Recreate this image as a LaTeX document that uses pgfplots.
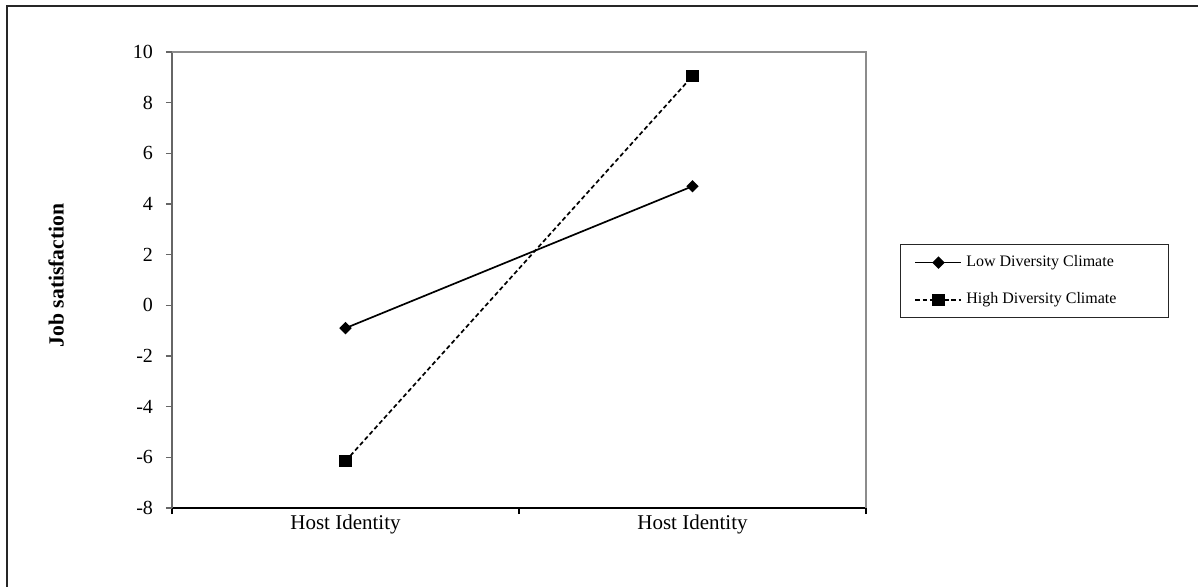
\documentclass[border=0pt]{standalone}
\usepackage{fontspec}
\setmainfont{Liberation Serif}
\usepackage{pgfplots}
\pgfplotsset{compat=1.18}
\begin{document}
\begin{tikzpicture}
\useasboundingbox (-86pt,-39pt) rectangle (513pt,254pt);
\draw[line width=1pt, black!85] (-82.5pt,-45pt) -- (-82.5pt,251pt) -- (520pt,251pt);
\begin{axis}[
  at={(0pt,0pt)}, anchor=south west,
  width=347pt, height=228pt, scale only axis,
  xmin=0, xmax=2, ymin=-8, ymax=10,
  ytick={-8,-6,...,10},
  xtick={0,1,2}, xticklabels={},
  extra x ticks={0.5,1.5},
  extra x tick labels={Host Identity,Host Identity},
  extra x tick style={major tick length=0pt, tick style={draw=none}},
  axis x line=bottom, axis y line=left, axis line style={-},
  x axis line style={black, line width=0.75pt},
  y axis line style={black!60, line width=1pt},
  ytick style={black!60, line width=0.75pt},
  xtick style={black, line width=0.75pt},
  tick align=outside, major tick length=3pt,
  /pgf/number format/assume math mode=true,
  tick label style={font=\fontsize{10}{12}\selectfont},
  yticklabel style={xshift=-3pt},
  xticklabel style={font=\fontsize{10.5}{12}\selectfont},
  ylabel={\textbf{Job satisfaction}},
  ylabel style={at={(axis description cs:-0.167,0.51)}, anchor=center, font=\fontsize{10.8}{13}\selectfont},
  clip=false,
  legend cell align=left,
  legend style={at={(1.049,0.579)}, anchor=north west, draw=black!85, line width=0.6pt,
    font=\fontsize{8}{9.6}\selectfont, row sep=7.5pt, inner ysep=3.5pt, inner xsep=7pt},
  legend image code/.code={\draw[mark repeat=2,mark phase=2,#1] plot coordinates {(0pt,0pt) (11.5pt,0pt) (23pt,0pt)};},
]
\addplot[black, line width=0.85pt, mark=diamond*, mark size=2.5pt, mark options={solid, xscale=1.33}] coordinates {(0.5,-0.9) (1.5,4.7)};
\addlegendentry{\makebox[92pt][l]{Low Diversity Climate}}
\addplot[black, line width=0.85pt, dash pattern=on 2.2pt off 1.4pt, mark=square*, mark size=2.6pt, mark options={solid}] coordinates {(0.5,-6.15) (1.5,9.05)};
\addlegendentry{\makebox[92pt][l]{High Diversity Climate}}
\draw[black!45, line width=0.75pt] (rel axis cs:0,1) -- (rel axis cs:1,1) -- (rel axis cs:1,0);
\end{axis}
\end{tikzpicture}
\end{document}
